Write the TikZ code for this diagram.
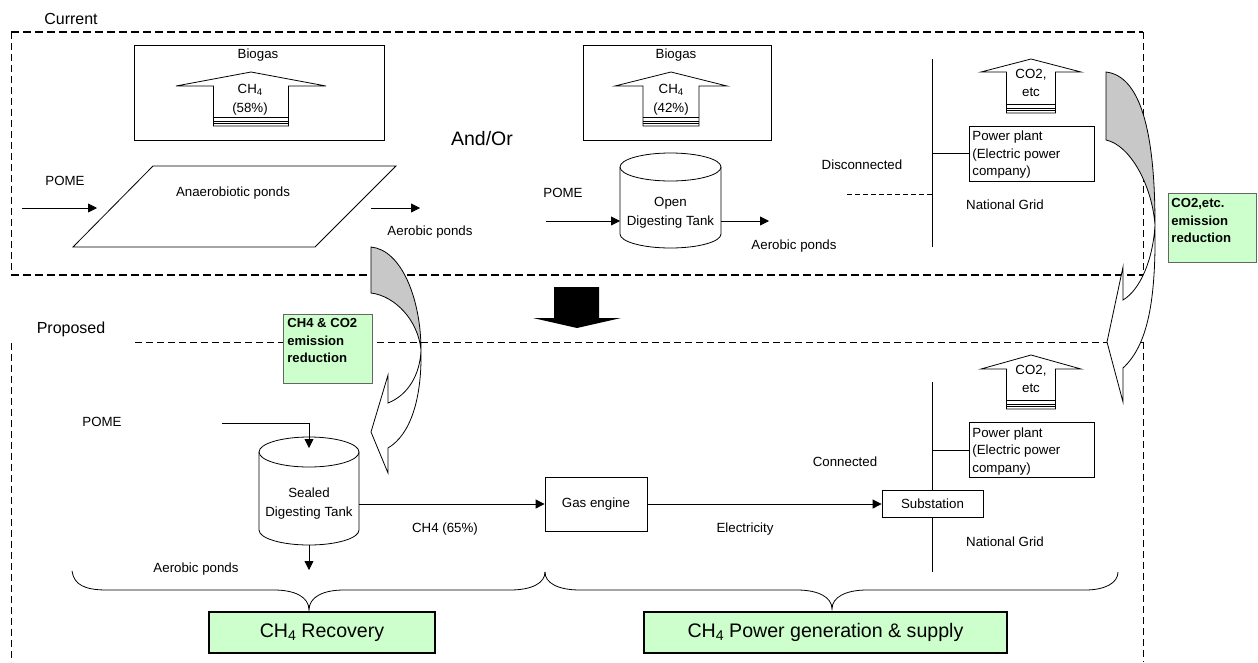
\documentclass[tikz,border=0pt]{standalone}
\usepackage{fontspec}
\setmainfont{Liberation Sans}
\usetikzlibrary{arrows.meta}
\definecolor{paleGreen}{HTML}{CCFFCC}
\definecolor{backGrey}{HTML}{C8C8C8}
% lowered small digit for chemical formulas
\newcommand\chemsub[1]{\raisebox{-0.3ex}{\scalebox{0.72}{#1}}}
% hollow upward gas arrow: centre x, tip y, wing y, wing half width, shaft half width, bottom y
\newcommand\gasarrow[6]{%
  \draw[fill=white] (#1,#2) -- ({#1+#4},#3) -- ({#1+#5},#3) -- ({#1+#5},#6)
    -- ({#1-#5},#6) -- ({#1-#5},#3) -- ({#1-#4},#3) -- cycle;
  \draw[line width=0.7pt] ({#1-#5},{#6-9}) -- ({#1+#5},{#6-9});
  \draw[line width=0.6pt] ({#1-#5},{#6-4.5}) -- ({#1+#5},{#6-4.5});
  \draw[line width=0.6pt] ({#1-#5},{#6-2.5}) -- ({#1+#5},{#6-2.5});
}
\begin{document}
\begin{tikzpicture}[x=1pt,y=-1pt,line width=0.8pt,
  lbl/.style={inner sep=0pt,font=\fontsize{13.3}{16}\selectfont},
  lbltwo/.style={inner sep=0pt,align=center,font=\fontsize{13.3}{19}\selectfont},
  boxed/.style={draw,fill=white,inner sep=0pt},
  plantbox/.style={boxed,minimum width=125pt,minimum height=55pt},
  planttext/.style={inner sep=0pt,anchor=north west,align=left,font=\fontsize{13.3}{17.5}\selectfont},
  arr/.style={-{Triangle[length=9pt,width=9pt]}},
  frame/.style={dash pattern=on 7pt off 4pt,line width=0.8pt},
  framebold/.style={dash pattern=on 8pt off 4pt,line width=1.2pt},
  notebox/.style={draw=black!60,fill=paleGreen,line width=0.8pt,inner sep=0pt,anchor=north west},
  notetext/.style={inner sep=0pt,anchor=north west,align=left,font=\fontsize{13.1}{17.5}\selectfont\bfseries},
  stage/.style={draw=black,line width=2.6pt,fill=paleGreen,inner sep=0pt,minimum height=41pt,font=\fontsize{19.6}{22}\selectfont},
]
\useasboundingbox[fill=white] (0,0) rectangle (1258,662);

% ---------------- section frames ----------------
\node[inner sep=0pt,font=\fontsize{16}{18}\selectfont] (current) at (71,19) {Current};
\draw[framebold] (11,32) -- (1143,32);
\draw[frame] (11,32) -- (11,275);
\draw[framebold] (11,275) -- (1143,275);
\draw[frame] (1143,32) -- (1143,275);

\node[inner sep=0pt,font=\fontsize{16}{18}\selectfont] (proposed) at (71,329) {Proposed};
\draw[frame,line width=1pt] (135,342) -- (1143,342);
\draw[frame] (11,343) -- (11,662);
\draw[frame] (1143,342) -- (1143,662);

% ---------------- current: anaerobic ponds ----------------
\node[boxed,minimum width=250pt,minimum height=95pt] (bio1) at (259,92.5) {};
\node[lbl] (bio1lbl) at (258,55) {Biogas};
\gasarrow{251}{72}{86}{75}{37.5}{126}
\node[lbltwo] (gas1) at (250,99.5) {CH\chemsub{4}\\(58\%)};

\draw (153,166) -- (396,166) -- (315,247) -- (73,247) -- cycle;
\node[lbl] (pond1) at (233,193) {Anaerobiotic ponds};
\node[lbl] (pome1) at (65,181) {POME};
\coordinate (pome1in) at (22,208);
\coordinate (pond1in) at (97,208);
\draw[arr] (pome1in) -- (pond1in);
\coordinate (pond1out) at (371,208);
\coordinate (aer1in) at (420,208);
\draw[arr] (pond1out) -- (aer1in);
\node[lbl] (aer1) at (430,232) {Aerobic ponds};

\node[inner sep=0pt,font=\fontsize{19.5}{22}\selectfont] (andor) at (482,139) {And/Or};

% ---------------- current: open digesting tank ----------------
\node[boxed,minimum width=188pt,minimum height=95pt] (bio2) at (677,92.5) {};
\node[lbl] (bio2lbl) at (676,55) {Biogas};
\gasarrow{671}{72}{86}{56}{28}{126}
\node[lbltwo] (gas2) at (671,99.5) {CH\chemsub{4}\\(42\%)};

\draw[fill=white] (620,167) -- (620,234) arc[start angle=180,end angle=0,x radius=50.5,y radius=14] -- (721,167);
\draw[fill=white] (670.5,167) ellipse [x radius=50.5,y radius=14];
\node[lbltwo,minimum width=101pt] (tank1) at (670.5,212.5) {Open\\Digesting Tank};
\node[lbl] (pome2) at (563,193) {POME};
\coordinate (pome2in) at (546,221);
\coordinate (tank1in) at (620,221);
\coordinate (tank1out) at (721,221);
\coordinate (aer2in) at (769,221);
\draw[arr] (pome2in) -- (tank1in);
\draw[arr] (tank1out) -- (aer2in);
\node[lbl] (aer2) at (794,246) {Aerobic ponds};

% ---------------- current: national grid ----------------
\gasarrow{1031}{59}{72}{50}{24.5}{113}
\node[lbltwo,font=\fontsize{13.3}{18}\selectfont] (co2a) at (1031,83) {CO2,\\etc};
\node[plantbox] (plant1) at (1031.5,153.5) {};
\node[planttext] (plant1txt) at (972,130.5) {Power plant\\(Electric power\\company)};
\coordinate (grid1top) at (932,59);
\coordinate (grid1bot) at (932,247);
\draw (grid1top) -- (grid1bot);
\draw (grid1top |- plant1.west) -- (plant1.west);
\coordinate (disc) at (847,194);
\draw[dashed,dash pattern=on 5pt off 3pt] (disc) -- (grid1top |- disc);
\node[lbl] (disclbl) at (862,165) {Disconnected};
\node[lbl] (grid1lbl) at (1005,205) {National Grid};

% ---------------- transition arrow ----------------
\fill (554,287) -- (599,287) -- (599,318) -- (621,318) -- (577,328) -- (533,318) -- (554,318) -- cycle;

% ---------------- proposed: sealed digesting tank ----------------
\node[lbl] (pome3) at (102,422) {POME};
\draw[fill=white] (259,452) -- (259,530) arc[start angle=180,end angle=0,x radius=50,y radius=15] -- (359,452);
\draw[fill=white] (309,452) ellipse [x radius=50,y radius=15];
\node[lbltwo,minimum width=100pt,minimum height=50pt] (tank2) at (309,504) {Sealed\\Digesting Tank};
\coordinate (pome3in) at (222,423);
\coordinate (tank2in) at (309,448);
\draw[arr] (pome3in) -- (tank2in |- pome3in) -- (tank2in);
\coordinate (tank2out) at (309,545);
\coordinate (aer3in) at (309,570);
\draw[arr] (tank2out) -- (aer3in);
\node[lbl] (aer3) at (196,569) {Aerobic ponds};

\node[boxed,minimum width=102pt,minimum height=54pt,font=\fontsize{13.3}{16}\selectfont] (engine) at (596,504) {Gas engine};
\draw[arr] (tank2.east) -- (engine.west);
\node[lbl] (ch4lbl) at (445,529) {CH4 (65\%)};

% ---------------- proposed: national grid ----------------
\gasarrow{1031}{355}{369}{50}{24.5}{409}
\node[lbltwo,font=\fontsize{13.3}{18}\selectfont] (co2b) at (1031,379) {CO2,\\etc};
\coordinate (grid2top) at (932,382);
\coordinate (grid2bot) at (932,572);
\draw (grid2top) -- (grid2bot);
\node[plantbox] (plant2) at (1031.5,450) {};
\node[planttext] (plant2txt) at (972,427) {Power plant\\(Electric power\\company)};
\draw (grid2top |- plant2.west) -- (plant2.west);
\node[boxed,minimum width=101pt,minimum height=27pt,font=\fontsize{13.3}{16}\selectfont] (substation) at (932.5,504) {Substation};
\draw[arr] (engine.east) -- (substation.west);
\node[lbl] (eleclbl) at (745,529) {Electricity};
\node[lbl] (connlbl) at (845,462) {Connected};
\node[lbl] (grid2lbl) at (1005,542) {National Grid};

% ---------------- reduction notes ----------------
\node[notebox,minimum width=89pt,minimum height=69pt] (noteA) at (283,314) {};
\node[notetext] (noteAtxt) at (287,318) {CH4 \& CO2\\emission\\reduction};
\node[notebox,minimum width=88pt,minimum height=69pt] (noteB) at (1168,193) {};
\node[notetext] (noteBtxt) at (1171,198) {CO2,etc.\\emission\\reduction};

% ---------------- curved reduction arrows ----------------
\filldraw[fill=backGrey] (371,293) -- (371,247) .. controls (402,250) and (421,300) .. (421,350)
  .. controls (418,320) and (395,296) .. (371,293) -- cycle;
\filldraw[fill=white] (421,350) .. controls (422,400) and (410,435) .. (388,448) -- (388,473)
  -- (371,432) -- (388,375) -- (388,403) .. controls (408,395) and (420,375) .. (421,350) -- cycle;

\filldraw[fill=backGrey] (1106,140) -- (1106,72) .. controls (1140,76) and (1155,130) .. (1155,225)
  .. controls (1152,185) and (1130,145) .. (1106,140) -- cycle;
\filldraw[fill=white] (1155,225) .. controls (1156,300) and (1148,345) .. (1123,368) -- (1123,402)
  -- (1107,342) -- (1123,267) -- (1123,300) .. controls (1140,290) and (1153,260) .. (1155,225) -- cycle;

% ---------------- braces and stage boxes ----------------
\draw (72,571) .. controls (74,585) and (85,590) .. (107,590) -- (274,590)
  .. controls (295,590) and (309,597) .. (309,610) .. controls (309,597) and (323,590) .. (344,590)
  -- (510,590) .. controls (532,590) and (545,583) .. (545,572);
\draw (545,572) .. controls (545,583) and (558,590) .. (580,590) -- (797,590)
  .. controls (818,590) and (832,597) .. (832,609) .. controls (832,597) and (846,590) .. (867,590)
  -- (1085,590) .. controls (1105,590) and (1118,583) .. (1118,572);

\node[stage,minimum width=226pt] (recovery) at (322,632.5) {CH\chemsub{4} Recovery};
\node[stage,minimum width=363pt] (power) at (825.5,632.5) {CH\chemsub{4} Power generation \& supply};
\end{tikzpicture}
\end{document}
